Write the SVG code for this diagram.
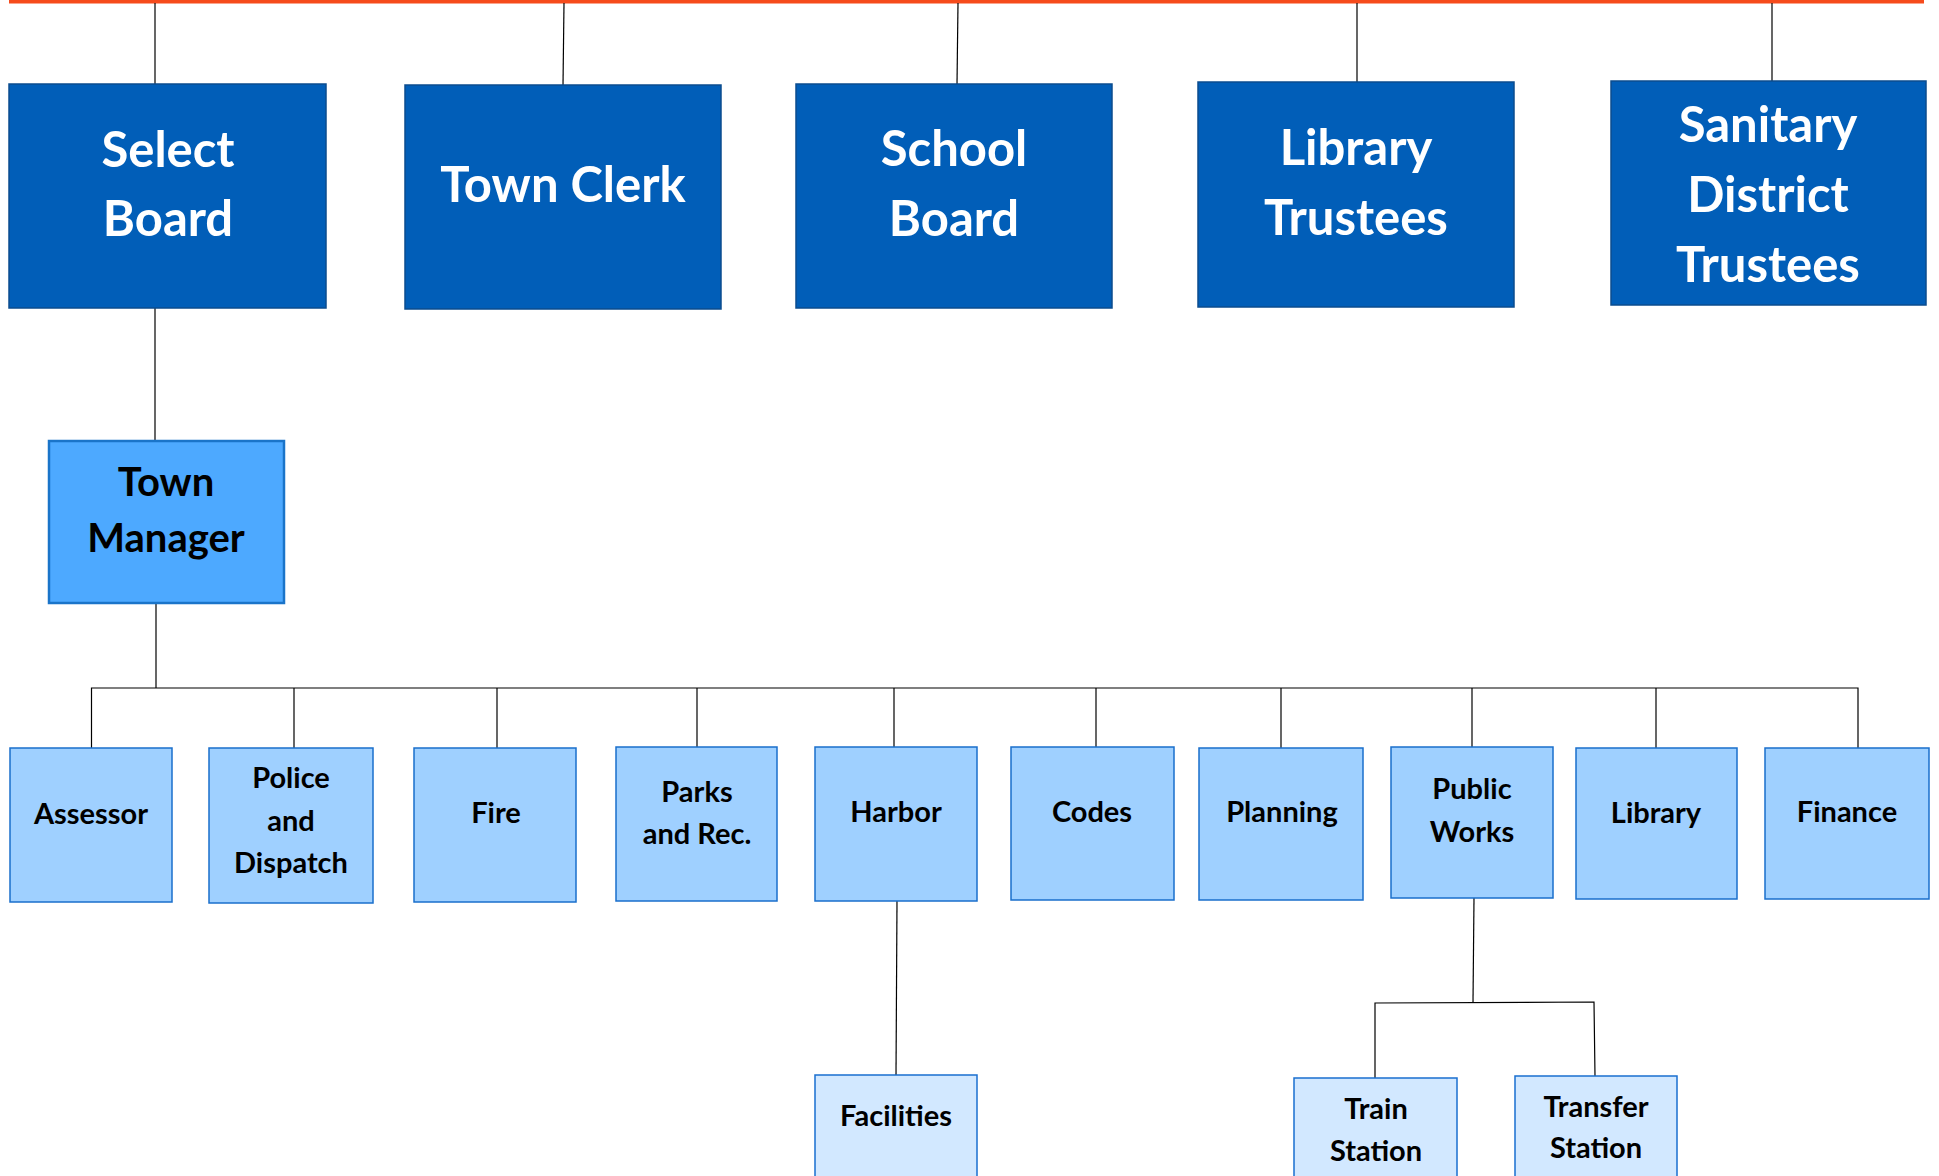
<svg xmlns="http://www.w3.org/2000/svg" width="1939" height="1176" viewBox="0 0 1939 1176">
  <style>
    .board rect { fill: #015EB8; stroke: #0B4C8E; stroke-width: 1.5; }
    .board text { fill: #FFFFFF; font-family: Lato, "Liberation Sans", sans-serif; font-weight: 700; font-size: 49px; text-anchor: middle; }
    .mgr rect { fill: #4DA9FF; stroke: #1A74C9; stroke-width: 2.5; }
    .mgr text { fill: #000000; font-family: Lato, "Liberation Sans", sans-serif; font-weight: 700; font-size: 40px; text-anchor: middle; }
    .dept rect { fill: #9FD0FF; stroke: #1A6FCC; stroke-width: 1.5; }
    .sub rect { fill: #D2E8FF; stroke: #1A6FD0; stroke-width: 1.5; }
    .dept text, .sub text { fill: #000000; font-family: Lato, "Liberation Sans", sans-serif; font-weight: 700; font-size: 29px; text-anchor: middle; }
    .wire { fill: none; stroke: #000000; stroke-width: 1.2; }
  </style>

  <!-- top bar -->
  <rect id="top-bar" x="9" y="0" width="1915" height="3.5" fill="#F64B1C"/>

  <!-- connectors -->
  <g id="connectors" class="wire">
    <line x1="155" y1="3" x2="155" y2="84"/>
    <line x1="564" y1="3" x2="563" y2="85"/>
    <line x1="958" y1="3" x2="957" y2="84"/>
    <line x1="1357" y1="3" x2="1357" y2="82"/>
    <line x1="1772" y1="3" x2="1772" y2="81"/>
    <line x1="155" y1="308" x2="155" y2="441"/>
    <line x1="156" y1="603" x2="156" y2="688"/>
    <polyline points="91.5,748 91.5,688 1858,688 1858,748"/>
    <line x1="294" y1="688" x2="294" y2="748"/>
    <line x1="497" y1="688" x2="497" y2="748"/>
    <line x1="697" y1="688" x2="697" y2="747"/>
    <line x1="894" y1="688" x2="894" y2="747"/>
    <line x1="1096" y1="688" x2="1096" y2="747"/>
    <line x1="1281" y1="688" x2="1281" y2="748"/>
    <line x1="1472" y1="688" x2="1472" y2="747"/>
    <line x1="1656" y1="688" x2="1656" y2="748"/>
    <line x1="897" y1="901" x2="896" y2="1075"/>
    <line x1="1474" y1="898" x2="1473" y2="1002"/>
    <polyline points="1375,1078 1375,1003 1594,1002 1595,1076"/>
  </g>

  <!-- elected boards -->
  <g id="select-board" class="board">
    <rect x="9" y="84" width="317" height="224"/>
    <text x="168" y="167">Select</text>
    <text x="168" y="236">Board</text>
  </g>
  <g id="town-clerk" class="board">
    <rect x="405" y="85" width="316" height="224"/>
    <text x="563" y="202">Town Clerk</text>
  </g>
  <g id="school-board" class="board">
    <rect x="796" y="84" width="316" height="224"/>
    <text x="954" y="166">School</text>
    <text x="954" y="236">Board</text>
  </g>
  <g id="library-trustees" class="board">
    <rect x="1198" y="82" width="316" height="225"/>
    <text x="1356" y="165">Library</text>
    <text x="1356" y="235">Trustees</text>
  </g>
  <g id="sanitary-district-trustees" class="board">
    <rect x="1611" y="81" width="315" height="224"/>
    <text x="1768" y="142">Sanitary</text>
    <text x="1768" y="212">District</text>
    <text x="1768" y="282">Trustees</text>
  </g>

  <!-- town manager -->
  <g id="town-manager" class="mgr">
    <rect x="49" y="441" width="235" height="162"/>
    <text x="166" y="496">Town</text>
    <text x="166" y="552">Manager</text>
  </g>

  <!-- departments -->
  <g id="assessor" class="dept">
    <rect x="10" y="748" width="162" height="154"/>
    <text x="91" y="824">Assessor</text>
  </g>
  <g id="police-dispatch" class="dept">
    <rect x="209" y="748" width="164" height="155"/>
    <text x="291" y="788">Police</text>
    <text x="291" y="831">and</text>
    <text x="291" y="873">Dispatch</text>
  </g>
  <g id="fire" class="dept">
    <rect x="414" y="748" width="162" height="154"/>
    <text x="496" y="823">Fire</text>
  </g>
  <g id="parks-rec" class="dept">
    <rect x="616" y="747" width="161" height="154"/>
    <text x="697" y="802">Parks</text>
    <text x="697" y="844">and Rec.</text>
  </g>
  <g id="harbor" class="dept">
    <rect x="815" y="747" width="162" height="154"/>
    <text x="896" y="822">Harbor</text>
  </g>
  <g id="codes" class="dept">
    <rect x="1011" y="747" width="163" height="153"/>
    <text x="1092" y="822">Codes</text>
  </g>
  <g id="planning" class="dept">
    <rect x="1199" y="748" width="164" height="152"/>
    <text x="1282" y="822">Planning</text>
  </g>
  <g id="public-works" class="dept">
    <rect x="1391" y="747" width="162" height="151"/>
    <text x="1472" y="799">Public</text>
    <text x="1472" y="842">Works</text>
  </g>
  <g id="library" class="dept">
    <rect x="1576" y="748" width="161" height="151"/>
    <text x="1656" y="823">Library</text>
  </g>
  <g id="finance" class="dept">
    <rect x="1765" y="748" width="164" height="151"/>
    <text x="1847" y="822">Finance</text>
  </g>

  <!-- sub-units -->
  <g id="facilities" class="sub">
    <rect x="815" y="1075" width="162" height="110"/>
    <text x="896" y="1126">Facilities</text>
  </g>
  <g id="train-station" class="sub">
    <rect x="1294" y="1078" width="163" height="110"/>
    <text x="1376" y="1119">Train</text>
    <text x="1376" y="1161">Station</text>
  </g>
  <g id="transfer-station" class="sub">
    <rect x="1515" y="1076" width="162" height="110"/>
    <text x="1596" y="1117">Transfer</text>
    <text x="1596" y="1158">Station</text>
  </g>
</svg>
